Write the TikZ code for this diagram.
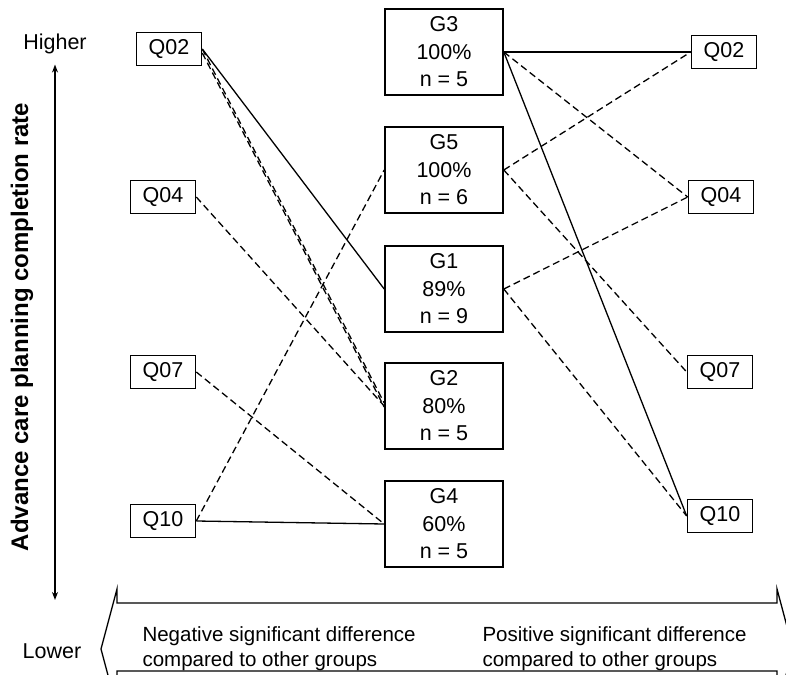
\documentclass[tikz,border=0pt]{standalone}
\usepackage{fontspec}
\setmainfont{Liberation Sans}
\usetikzlibrary{arrows.meta}
\begin{document}
\begin{tikzpicture}[
    x=1pt, y=-1pt,
    >={Stealth[length=8pt,width=6pt]},
    qbox/.style={
        draw=black,
        line width=1.6pt,
        minimum width=65pt,
        minimum height=33pt,
        inner sep=0pt,
        font=\fontsize{21.5}{26}\selectfont
    },
    gbox/.style={
        draw=black,
        line width=1.6pt,
        minimum width=118pt,
        minimum height=86pt,
        inner sep=0pt,
        align=center,
        font=\fontsize{21.5}{27.5}\selectfont
    },
    lbl/.style={font=\fontsize{21.5}{26}\selectfont},
    note/.style={align=left, anchor=west, font=\fontsize{20.5}{25}\selectfont},
    solidlink/.style={line width=1.3pt, draw=black},
    dashlink/.style={solidlink, dash pattern=on 7pt off 4pt}
]
    \useasboundingbox (0,0) rectangle (786,674);

    \node[qbox] (lq02) at (169,49) {Q02};
    \node[qbox] (lq04) at (163,197) {Q04};
    \node[qbox] (lq07) at (163,372) {Q07};
    \node[qbox] (lq10) at (163,521) {Q10};

    \node[gbox] (g3) at (444,52) {G3\\100\%\\n = 5};
    \node[gbox] (g5) at (444,170) {G5\\100\%\\n = 6};
    \node[gbox] (g1) at (444,289) {G1\\89\%\\n = 9};
    \node[gbox] (g2) at (444,406) {G2\\80\%\\n = 5};
    \node[gbox] (g4) at (444,524) {G4\\60\%\\n = 5};

    \node[qbox] (rq02) at (724,52) {Q02};
    \node[qbox] (rq04) at (721,197) {Q04};
    \node[qbox] (rq07) at (720,372) {Q07};
    \node[qbox] (rq10) at (720,516) {Q10};

    \draw[solidlink] (lq02.east) -- (g1.west);
    \draw[dashlink] (lq02.east) -- ([yshift=3pt]g2.west);
    \draw[dashlink] ([yshift=-4pt]lq02.east) -- ([yshift=-1pt]g2.west);
    \draw[dashlink] (lq04.east) -- (g2.west);
    \draw[dashlink] (lq07.east) -- (g4.west);
    \draw[dashlink] (lq10.east) -- (g5.west);
    \draw[solidlink] (lq10.east) -- (g4.west);

    \draw[solidlink] (g3.east) -- (rq02.west);
    \draw[dashlink] (g3.east) -- (rq04.west);
    \draw[solidlink] (g3.east) -- (rq10.west);
    \draw[dashlink] (g5.east) -- (rq02.west);
    \draw[dashlink] (g5.east) -- (rq07.west);
    \draw[dashlink] (g1.east) -- (rq04.west);
    \draw[dashlink] (g1.east) -- (rq10.west);

    \node[lbl] (higher) at (55,44) {Higher};
    \node[lbl] (lower) at (52,651) {Lower};
    \draw[<->, line width=1.2pt, shorten <=7pt, shorten >=40pt]
        (higher.south) -- (higher.south |- lower.north);
    \node[rotate=90, font=\bfseries\fontsize{24}{28}\selectfont] (axislabel)
        at (22,327) {Advance care planning completion rate};

    \draw[line width=1.3pt] (117,603) -- (777,603) -- (777,589) -- (793,649)
        -- (777,709) -- (777,671) -- (117,671) -- (117,709) -- (101,649)
        -- (117,589) -- cycle;
    \node[note] (negtext) at (139,649) {Negative significant difference\\compared to other groups};
    \node[note] (postext) at (479,649) {Positive significant difference\\compared to other groups};
\end{tikzpicture}
\end{document}
